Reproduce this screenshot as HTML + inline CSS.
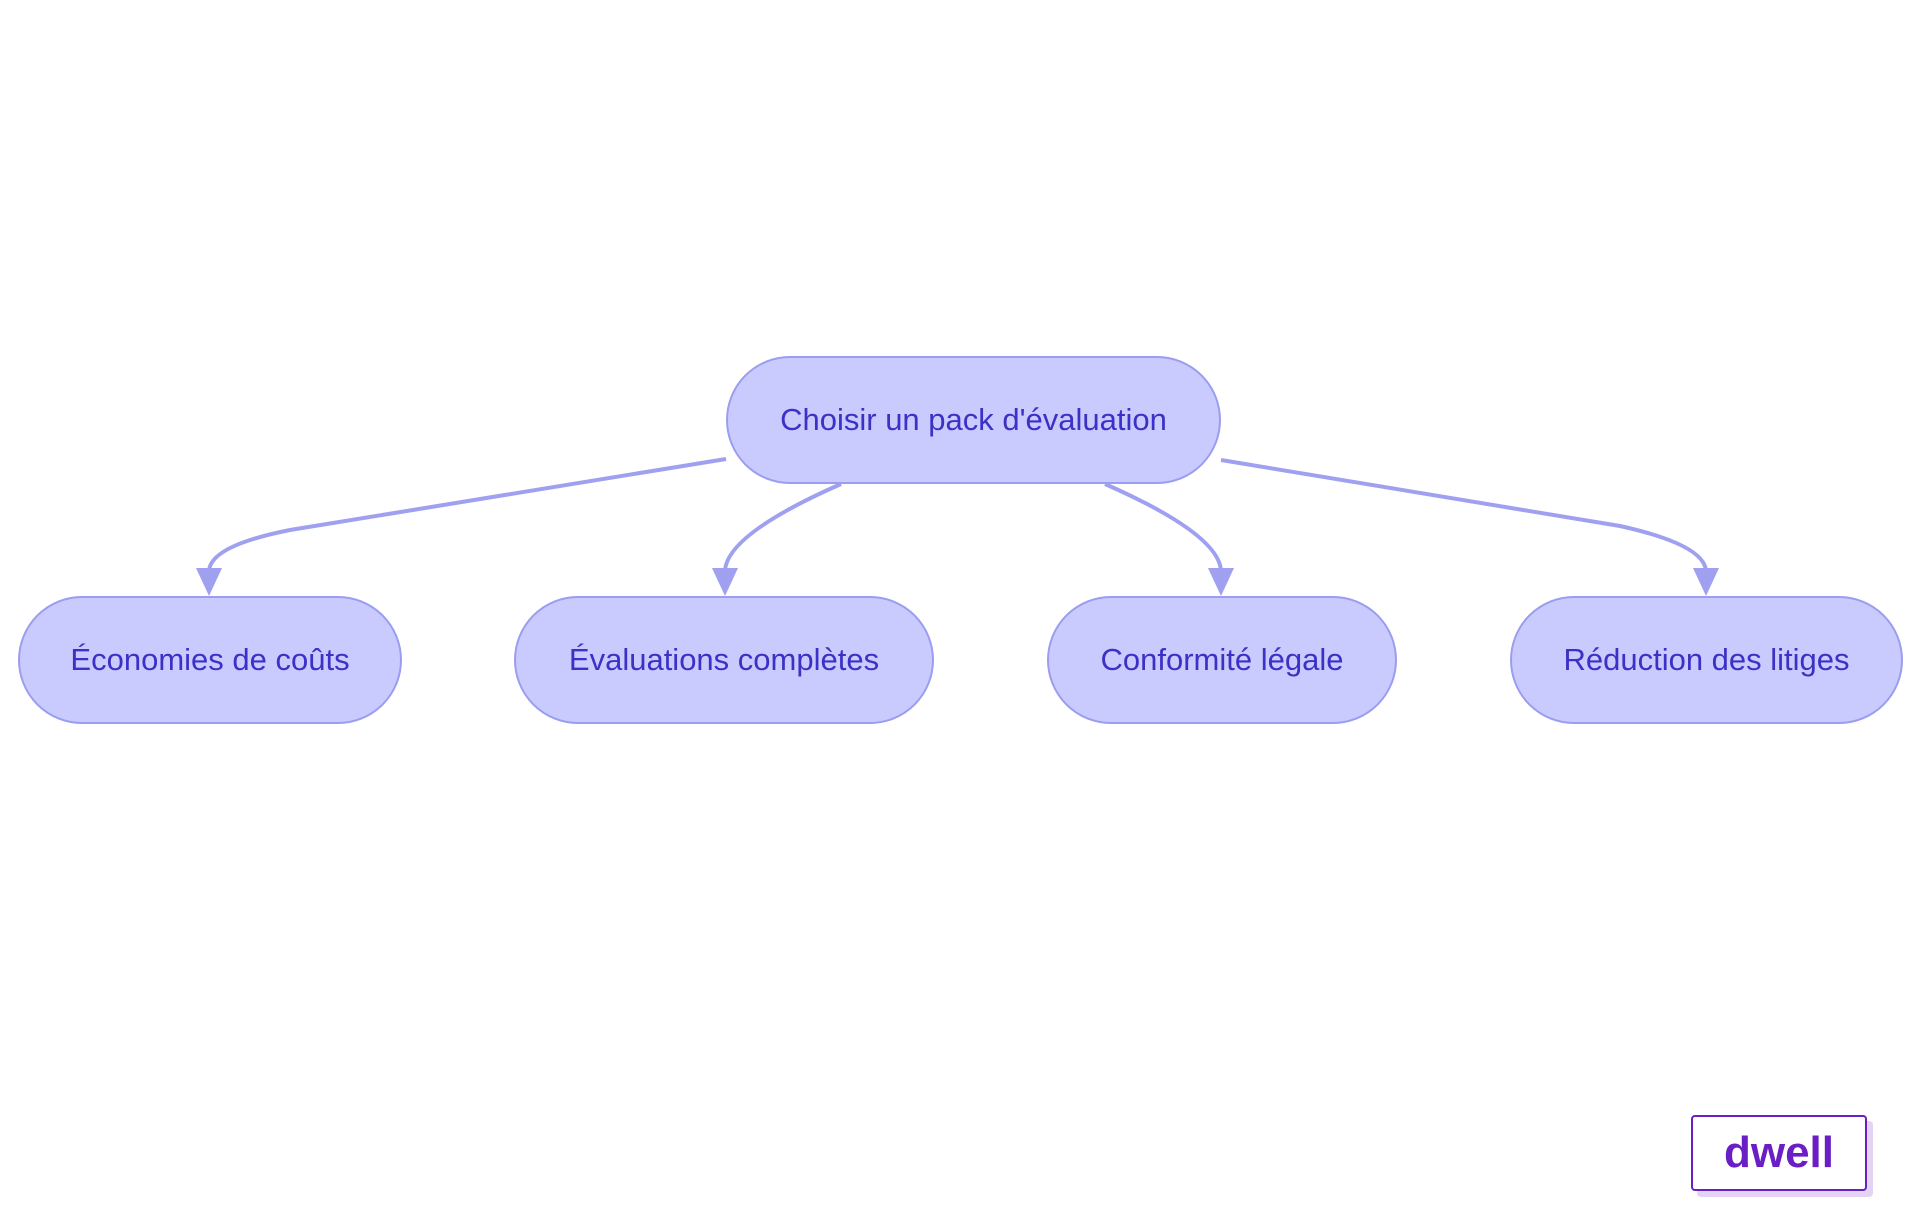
<!DOCTYPE html>
<html><head><meta charset="utf-8"><style>
body{margin:0;width:1920px;height:1215px;background:#fff;overflow:hidden;position:relative;font-family:"Liberation Sans",sans-serif}
.n{position:absolute;box-sizing:border-box;background:#c9cafd;border:2px solid #9a9df0;border-radius:64px;display:flex;align-items:center;justify-content:center;color:#3b31c6;font-size:31px;white-space:nowrap}
.logo{position:absolute;left:1691px;top:1115px;width:176px;height:76px;box-sizing:border-box;border:2px solid #6a1fc4;border-radius:4px;background:#fff;box-shadow:6px 6px 0 #e3d3f5;color:#6a1fc4;font-weight:bold;font-size:44px;display:flex;align-items:center;justify-content:center}
</style></head><body>
<svg width="1920" height="1215" style="position:absolute;left:0;top:0">
<g fill="none" stroke="#9fa0f0" stroke-width="4">
<path d="M726,459 L290,530 Q209,546 209,572"/>
<path d="M841,484 Q725,535 725,572"/>
<path d="M1105,484 Q1221,535 1221,572"/>
<path d="M1221,460 L1620,526 Q1706,545 1706,572"/>
</g>
<g fill="#9fa0f0">
<polygon points="196,568 222,568 209,596"/>
<polygon points="712,568 738,568 725,596"/>
<polygon points="1208,568 1234,568 1221,596"/>
<polygon points="1693,568 1719,568 1706,596"/>
</g>
</svg>
<div class="n" style="left:726px;top:356px;width:495px;height:128px">Choisir un pack d'évaluation</div>
<div class="n" style="left:18px;top:596px;width:384px;height:128px">Économies de coûts</div>
<div class="n" style="left:514px;top:596px;width:420px;height:128px">Évaluations complètes</div>
<div class="n" style="left:1047px;top:596px;width:350px;height:128px">Conformité légale</div>
<div class="n" style="left:1510px;top:596px;width:393px;height:128px">Réduction des litiges</div>
<div class="logo">dwell</div>
</body></html>
